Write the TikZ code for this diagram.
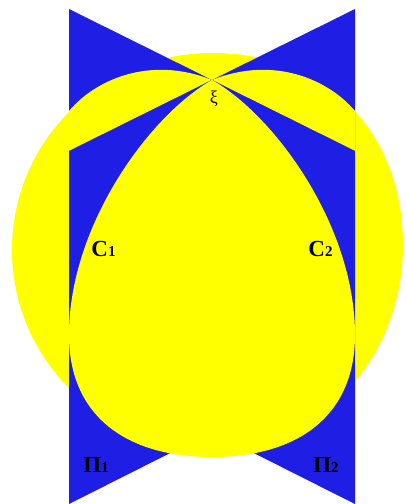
\documentclass[tikz,border=0pt]{standalone}
\usepackage{fontspec}
\setmainfont{Liberation Serif}
\definecolor{myblue}{RGB}{30,30,228}
\definecolor{myyellow}{RGB}{255,255,0}
\begin{document}
\begin{tikzpicture}[x=1pt,y=-1pt,
  yel/.style={fill=myyellow},
  blu/.style={fill=myblue},
  lab/.style={font=\bfseries, inner sep=0pt, text=black, anchor=base}]
\useasboundingbox (0,0) rectangle (407,504);
\fill[white] (0,0) rectangle (407,504);
\coordinate (xi) at (212,80);
\coordinate (TL) at (69,9);
\coordinate (TR) at (355,9);
\coordinate (ML) at (69,151);
\coordinate (MR) at (355,151);
\coordinate (BL) at (69,504);
\coordinate (BR) at (355,504);
\coordinate (BX) at (212,432);
% outer yellow region
\path[yel] (212,53) .. controls (330,53) and (403,135) .. (403,245)
  .. controls (403,350) and (330,447) .. (212,447)
  .. controls (102,447) and (12,360) .. (12,250)
  .. controls (12,140) and (102,53) .. (212,53) -- cycle;
% bow-tie wedges
\path[blu] (TL) -- (xi) -- (ML) -- cycle;
\path[blu] (TR) -- (xi) -- (MR) -- cycle;
% yellow bands inside the wedges
\path[yel] (69,111) .. controls (95,80) and (150,55) .. (xi) -- (ML) -- cycle;
\path[yel] (355,111) .. controls (329,80) and (274,55) .. (xi) -- (MR) -- cycle;
% main blue region
\path[blu] (ML) -- (xi) -- (MR) -- (BR) -- (BX) -- (BL) -- cycle;
% inner egg
\path[yel] (xi) .. controls (150,115) and (69,225) .. (69,335)
  .. controls (69,415) and (125,457) .. (212,457)
  .. controls (299,457) and (355,415) .. (355,335)
  .. controls (355,225) and (274,115) .. (xi) -- cycle;
% labels
\node[inner sep=0pt, anchor=base] (xil) at (214,103) {\fontsize{18}{18}\selectfont ξ};
\node[lab] (c1) at (103.5,256) {\fontsize{23}{23}\selectfont C\fontsize{15}{15}\selectfont 1};
\node[lab] (c2) at (320.5,256) {\fontsize{23}{23}\selectfont C\fontsize{15}{15}\selectfont 2};
\node[lab] (p1) at (96,472) {\fontsize{23}{23}\selectfont Π\fontsize{15}{15}\selectfont 1};
\node[lab] (p2) at (326,472) {\fontsize{23}{23}\selectfont Π\fontsize{15}{15}\selectfont 2};
\end{tikzpicture}
\end{document}
